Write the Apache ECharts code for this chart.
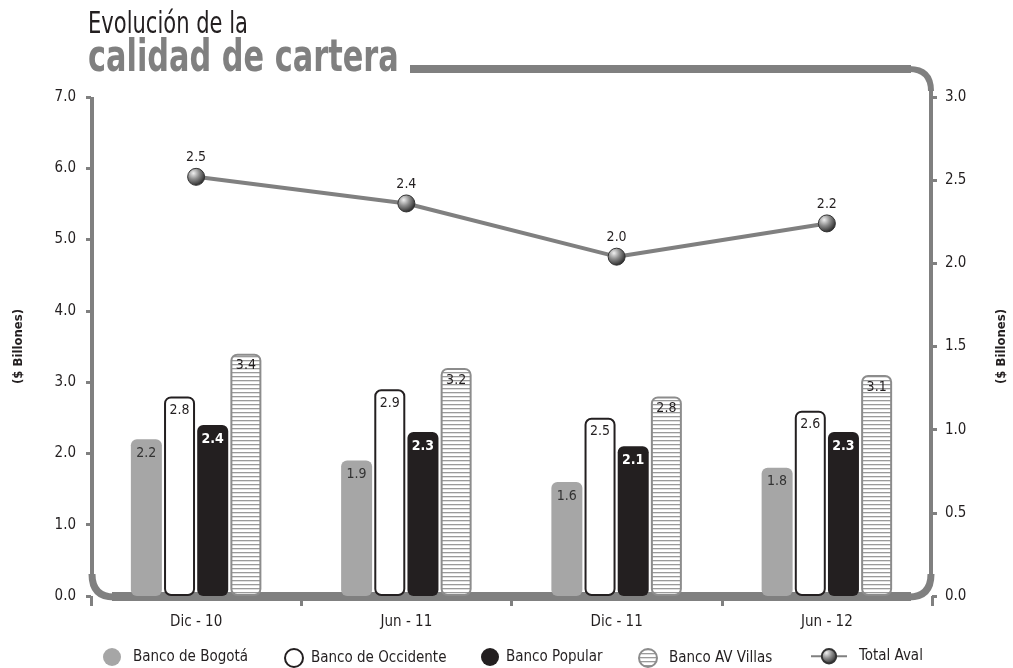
<!DOCTYPE html>
<html><head><meta charset="utf-8">
<script src="https://cdn.jsdelivr.net/npm/echarts@6/dist/echarts.min.js"></script>
<style>html,body{margin:0;padding:0;background:#fff;overflow:hidden}#c{width:1013px;height:668px}</style>
</head><body><div id="c"></div>
<script>
const categories = ['Dic - 10', 'Jun - 11', 'Dic - 11', 'Jun - 12'];
const bogota = [2.2, 1.9, 1.6, 1.8];
const occidente = [2.8, 2.9, 2.5, 2.6];
const popular = [2.4, 2.3, 2.1, 2.3];
const avVillas = [3.4, 3.2, 2.8, 3.1];
const totalAval = [2.52, 2.36, 2.04, 2.24];
const leftTicks = [0, 7, 1];
const rightTicks = [0, 3, 0.5];

const FONT = '"Liberation Sans Narrow","DejaVu Sans Condensed","Liberation Sans",sans-serif';
const GRAY = '#808080';

const pc = document.createElement('canvas');
pc.width = 4; pc.height = 4;
const pctx = pc.getContext('2d');
pctx.fillStyle = '#ffffff'; pctx.fillRect(0, 0, 4, 4);
pctx.fillStyle = '#9a9a9a'; pctx.fillRect(0, 0, 4, 1.3);

const chart = echarts.init(document.getElementById('c'), null, {renderer: 'canvas'});
const fmt = p => p.value.toFixed(1);
const barBase = {type: 'bar', barWidth: 31, barGap: '7%', z: 5};

function legendAt(name, left, pad, w, icon) {
  const l = {data: [{name: name}], left: left, top: 648, padding: 0, itemWidth: w || 18, itemHeight: 18,
    textStyle: {fontFamily: FONT, fontSize: 15, color: '#231f20', padding: [0, 0, 0, pad]}, selectedMode: false};
  if (icon) l.data[0].icon = icon;
  return l;
}
function seg(x1, y1, x2, y2, w) {
  return {type: 'line', z: 1, shape: {x1: x1, y1: y1, x2: x2, y2: y2}, style: {stroke: GRAY, lineWidth: w}};
}
function curve(x1, y1, cx, cy, x2, y2, w) {
  return {type: 'bezierCurve', z: 1, shape: {x1: x1, y1: y1, cpx1: cx, cpy1: cy, x2: x2, y2: y2}, style: {stroke: GRAY, lineWidth: w, fill: null}};
}

chart.setOption({
  animation: false,
  backgroundColor: '#ffffff',
  grid: {left: 91, right: 81, top: 97, bottom: 72, outerBoundsMode: 'none', containLabel: false},
  legend: [
    legendAt('Banco de Bogotá', 103, 7, 18, 'circle'),
    legendAt('Banco de Occidente', 284, 3, 18, 'circle'),
    legendAt('Banco Popular', 481, 2, 18, 'circle'),
    legendAt('Banco AV Villas', 638, 7, 18, 'circle'),
    legendAt('Total Aval', 810, 7, 36)
  ],
  xAxis: {
    type: 'category', data: categories,
    axisLine: {show: false},
    axisTick: {show: true, length: 10, interval: 0, lineStyle: {color: GRAY, width: 3}},
    axisLabel: {margin: 19, fontFamily: FONT, fontSize: 15, color: '#231f20'}
  },
  yAxis: [
    {type: 'value', min: leftTicks[0], max: leftTicks[1], interval: leftTicks[2],
      name: '($ Billones)', nameLocation: 'middle', nameGap: 66, nameRotate: 90,
      nameTextStyle: {fontFamily: FONT, fontSize: 13, fontWeight: 'bold', color: '#231f20'},
      axisLine: {show: false}, splitLine: {show: false},
      axisTick: {show: true, length: 5, lineStyle: {color: GRAY, width: 3}},
      axisLabel: {margin: 15, fontFamily: FONT, fontSize: 15, color: '#231f20', formatter: v => v.toFixed(1)}},
    {type: 'value', min: rightTicks[0], max: rightTicks[1], interval: rightTicks[2],
      name: '($ Billones)', nameLocation: 'middle', nameGap: 63, nameRotate: 90,
      nameTextStyle: {fontFamily: FONT, fontSize: 13, fontWeight: 'bold', color: '#231f20'},
      axisLine: {show: false}, splitLine: {show: false},
      axisTick: {show: true, length: 5, lineStyle: {color: GRAY, width: 3}},
      axisLabel: {margin: 13, fontFamily: FONT, fontSize: 15, color: '#231f20', formatter: v => v.toFixed(1)}}
  ],
  series: [
    Object.assign({}, barBase, {name: 'Banco de Bogotá', data: bogota,
      itemStyle: {color: '#a6a6a6', borderRadius: 6},
      label: {show: true, position: 'insideTop', distance: 7, formatter: fmt, fontFamily: FONT, fontSize: 14, color: '#333333'}}),
    Object.assign({}, barBase, {name: 'Banco de Occidente', data: occidente,
      itemStyle: {color: '#ffffff', borderColor: '#231f20', borderWidth: 2, borderRadius: 6},
      label: {show: true, position: 'insideTop', distance: 7, formatter: fmt, fontFamily: FONT, fontSize: 14, color: '#231f20'}}),
    Object.assign({}, barBase, {name: 'Banco Popular', data: popular,
      itemStyle: {color: '#231f20', borderRadius: 6},
      label: {show: true, position: 'insideTop', distance: 7, formatter: fmt, fontFamily: FONT, fontSize: 14, fontWeight: 'bold', color: '#ffffff'}}),
    Object.assign({}, barBase, {name: 'Banco AV Villas', data: avVillas,
      itemStyle: {color: {image: pc, repeat: 'repeat'}, borderColor: '#8c8c8c', borderWidth: 2, borderRadius: 6},
      label: {show: true, position: 'insideTop', distance: 5, formatter: fmt, fontFamily: FONT, fontSize: 14, color: '#231f20'}}),
    {name: 'Total Aval', type: 'line', yAxisIndex: 1, data: totalAval, z: 6,
      lineStyle: {color: GRAY, width: 4}, symbol: 'circle', symbolSize: 17,
      itemStyle: {color: {type: 'radial', x: 0.35, y: 0.3, r: 0.75,
        colorStops: [{offset: 0, color: '#f0f0f0'}, {offset: 0.45, color: '#8a8a8a'}, {offset: 1, color: '#1e1e1e'}]},
        borderColor: '#333333', borderWidth: 1},
      label: {show: true, position: 'top', distance: 3, formatter: fmt, fontFamily: FONT, fontSize: 14, color: '#231f20'}}
  ],
  graphic: [
    seg(410, 69, 911, 69, 8),
    curve(909, 69, 931, 69, 931, 91, 6),
    seg(931, 89, 931, 576, 4),
    curve(931, 574, 931, 597, 909, 597, 7),
    seg(911, 596.5, 112, 596.5, 9),
    curve(114, 597, 92, 597, 92, 574, 7),
    seg(92, 576, 92, 97, 4),
    {type: 'text', x: 88, y: 10, scaleX: 0.78, z: 10, style: {text: 'Evolución de la', fontFamily: FONT, fontSize: 30, fill: '#231f20'}},
    {type: 'text', x: 88, y: 37, scaleX: 0.75, z: 10, style: {text: 'calidad de cartera', fontFamily: FONT, fontSize: 45, fontWeight: 'bold', fill: GRAY}}
  ]
});
</script></body></html>
